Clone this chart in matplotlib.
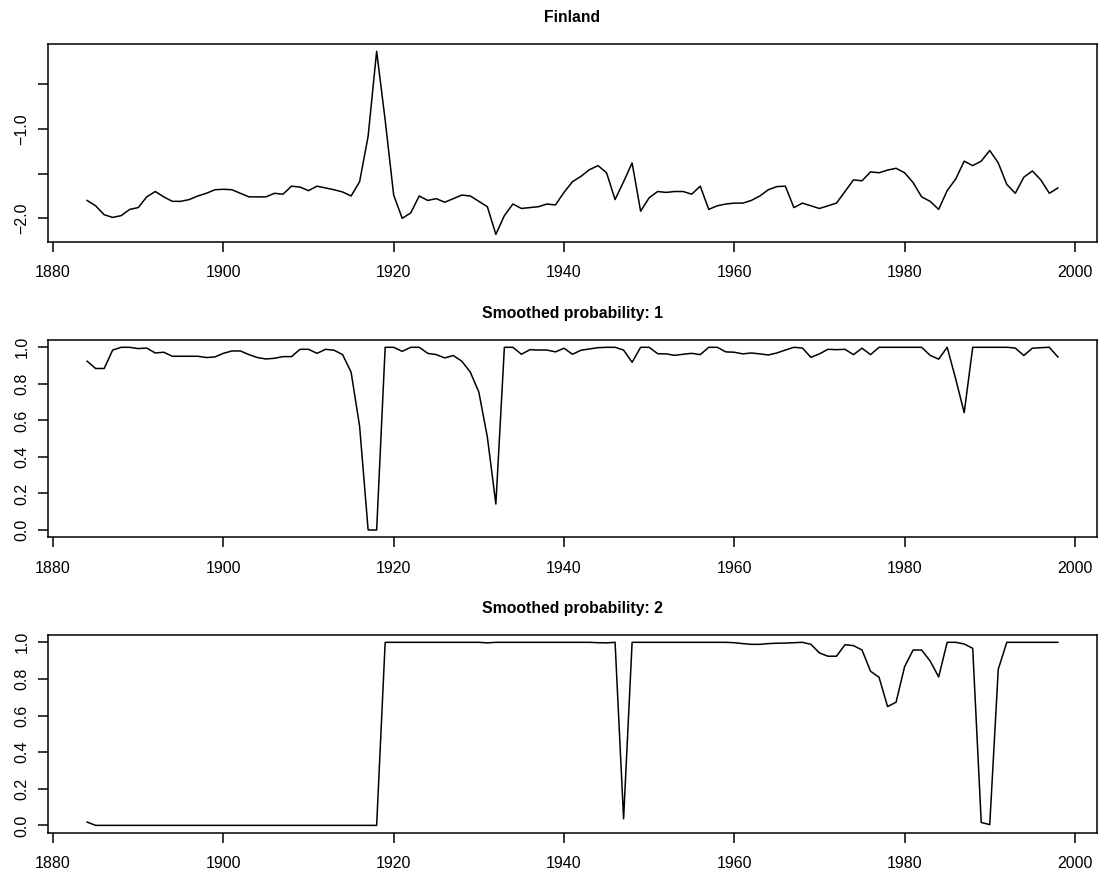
import numpy as np
import matplotlib
matplotlib.use("Agg")
import matplotlib.pyplot as plt
from matplotlib.ticker import FixedLocator, FixedFormatter

years = list(range(1884, 1999))

finland = [
    -1.80, -1.86, -1.96, -1.99, -1.97, -1.90, -1.88, -1.76, -1.70, -1.76,
    -1.81, -1.81, -1.79, -1.75, -1.72, -1.68, -1.675, -1.68, -1.72, -1.76,
    -1.76, -1.76, -1.72, -1.73, -1.64, -1.65, -1.69, -1.64, -1.66, -1.68,
    -1.705, -1.75, -1.59, -1.08, -0.13, -0.90, -1.74, -2.00, -1.94, -1.75,
    -1.80, -1.78, -1.82, -1.78, -1.74, -1.75, -1.81, -1.87, -2.18, -1.97,
    -1.84, -1.89, -1.88, -1.87, -1.84, -1.85, -1.71, -1.59, -1.53, -1.455,
    -1.41, -1.49, -1.79, -1.59, -1.38, -1.92, -1.77, -1.70, -1.71, -1.70,
    -1.70, -1.73, -1.64, -1.90, -1.86, -1.84, -1.83, -1.83, -1.80, -1.75,
    -1.68, -1.645, -1.64, -1.88, -1.83, -1.86, -1.89, -1.86, -1.83, -1.70,
    -1.57, -1.58, -1.48, -1.49, -1.46, -1.44, -1.49, -1.60, -1.76, -1.81,
    -1.90, -1.69, -1.56, -1.36, -1.41, -1.36, -1.24, -1.38, -1.62, -1.72,
    -1.54, -1.47, -1.57, -1.72, -1.66,
]

prob1 = [
    0.924, 0.884, 0.884, 0.985, 1.0, 1.0, 0.993, 0.996, 0.969, 0.973,
    0.951, 0.951, 0.951, 0.951, 0.944, 0.947, 0.967, 0.98, 0.98, 0.96,
    0.944, 0.936, 0.94, 0.949, 0.949, 0.989, 0.989, 0.967, 0.989, 0.984,
    0.96, 0.864, 0.567, 0.0, 0.0, 1.0, 1.0, 0.978, 1.0, 1.0,
    0.967, 0.96, 0.942, 0.955, 0.924, 0.864, 0.755, 0.509, 0.142, 1.0,
    1.0, 0.962, 0.987, 0.985, 0.985, 0.975, 0.995, 0.962, 0.984, 0.991,
    0.998, 1.0, 1.0, 0.985, 0.918, 1.0, 1.0, 0.965, 0.964, 0.956,
    0.962, 0.967, 0.96, 1.0, 1.0, 0.975, 0.973, 0.964, 0.969, 0.964,
    0.958, 0.969, 0.985, 1.0, 0.996, 0.945, 0.964, 0.989, 0.987, 0.989,
    0.96, 0.995, 0.96, 1.0, 1.0, 1.0, 1.0, 1.0, 1.0, 0.956,
    0.935, 1.0, 0.827, 0.642, 1.0, 1.0, 1.0, 1.0, 1.0, 0.996,
    0.955, 0.995, 0.998, 1.0, 0.947,
]

prob2 = [
    0.018, 0.0, 0.0, 0.0, 0.0, 0.0, 0.0, 0.0, 0.0, 0.0,
    0.0, 0.0, 0.0, 0.0, 0.0, 0.0, 0.0, 0.0, 0.0, 0.0,
    0.0, 0.0, 0.0, 0.0, 0.0, 0.0, 0.0, 0.0, 0.0, 0.0,
    0.0, 0.0, 0.0, 0.0, 0.0, 1.0, 1.0, 1.0, 1.0, 1.0,
    1.0, 1.0, 1.0, 1.0, 1.0, 1.0, 1.0, 0.997, 1.0, 1.0,
    1.0, 1.0, 1.0, 1.0, 1.0, 1.0, 1.0, 1.0, 1.0, 1.0,
    0.998, 0.997, 1.0, 0.036, 1.0, 1.0, 1.0, 1.0, 1.0, 1.0,
    1.0, 1.0, 1.0, 1.0, 1.0, 1.0, 0.998, 0.993, 0.989, 0.989,
    0.993, 0.995, 0.996, 0.998, 1.0, 0.989, 0.942, 0.924, 0.924, 0.987,
    0.982, 0.958, 0.842, 0.809, 0.649, 0.673, 0.867, 0.958, 0.958, 0.898,
    0.811, 1.0, 1.0, 0.991, 0.967, 0.016, 0.004, 0.853, 1.0, 1.0,
    1.0, 1.0, 1.0, 1.0, 1.0,
]

titles = ["Finland", "Smoothed probability: 1", "Smoothed probability: 2"]
x_ticks = [1880, 1900, 1920, 1940, 1960, 1980, 2000]
top_yticks = [-2.0, -1.5, -1.0, -0.5]
top_ylabels = ["\u22122.0", "", "\u22121.0", ""]
prob_yticks = [0.0, 0.2, 0.4, 0.6, 0.8, 1.0]
prob_ylabels = ["0.0", "0.2", "0.4", "0.6", "0.8", "1.0"]

plt.rcParams['font.family'] = ['Liberation Sans', 'DejaVu Sans']

W, H = 1101, 877
fig = plt.figure(figsize=(W / 100, H / 100), dpi=100)

boxes = [(48.3, 44.0, 1096.7, 241.7), (48.3, 340.0, 1096.7, 537.3), (48.3, 635.0, 1096.7, 832.7)]
series = [finland, prob1, prob2]

for i, (b, s, t) in enumerate(zip(boxes, series, titles)):
    l, tp, r, bt = b
    ax = fig.add_axes([l / W, 1 - bt / H, (r - l) / W, (bt - tp) / H])
    ax.plot(years, s, color='black', lw=1.1)
    ax.margins(x=0.04, y=0.04)
    ax.xaxis.set_major_locator(FixedLocator(x_ticks))
    ax.xaxis.set_major_formatter(FixedFormatter([str(v) for v in x_ticks]))
    if i == 0:
        ax.yaxis.set_major_locator(FixedLocator(top_yticks))
        ax.yaxis.set_major_formatter(FixedFormatter(top_ylabels))
    else:
        ax.yaxis.set_major_locator(FixedLocator(prob_yticks))
        ax.yaxis.set_major_formatter(FixedFormatter(prob_ylabels))
    for sp in ax.spines.values():
        sp.set_linewidth(1.1)
    ax.tick_params(axis='both', direction='out', length=7, width=1.1,
                   labelsize=11.5)
    ax.tick_params(axis='x', pad=10)
    ax.tick_params(axis='y', pad=6.5)
    for lab in ax.get_yticklabels():
        lab.set_rotation(90)
        lab.set_va('center')
    ax.set_title(t, fontsize=11.3, fontweight='bold', pad=15.5)

fig.savefig("out.png", dpi=100)
